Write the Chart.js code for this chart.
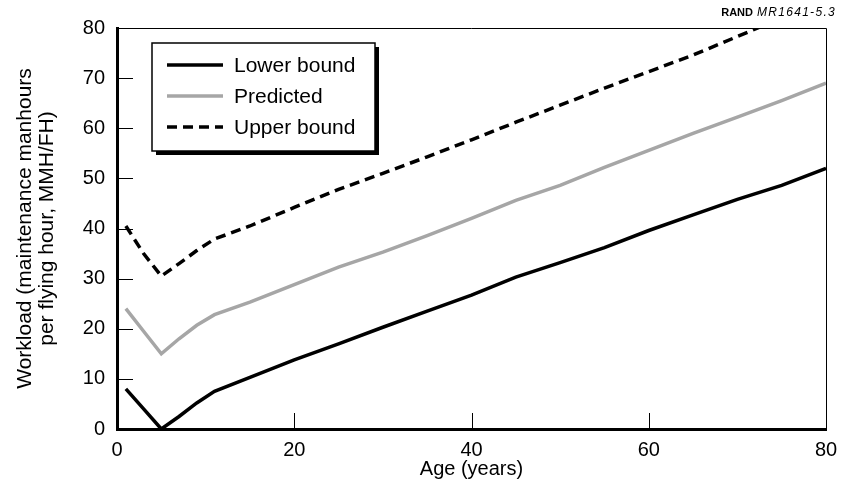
<!DOCTYPE html>
<html>
<head>
<meta charset="utf-8">
<title>Workload vs aircraft age</title>
<script src="https://cdn.jsdelivr.net/npm/chart.js@4.4.1/dist/chart.umd.min.js"></script>
<style>
  html, body { margin: 0; padding: 0; background: #fff; }
  #wrap { width: 843px; height: 492px; }
</style>
</head>
<body>
<div id="wrap"><canvas id="chart" width="843" height="492"></canvas></div>
<script>
const ages = [1, 3, 5, 7, 9, 11, 15, 20, 25, 30, 35, 40, 45, 50, 55, 60, 65, 70, 75, 80];

// Workload, MMH/FH
const lowerBound = [8, 4, 0, 2.5, 5.2, 7.5, 10.3, 13.8, 17, 20.3, 23.5, 26.7, 30.3, 33.2, 36.2, 39.6, 42.7, 45.8, 48.6, 52];
const predicted  = [24, 19.5, 15, 18, 20.7, 22.8, 25.3, 28.8, 32.3, 35.3, 38.6, 42, 45.6, 48.6, 52.2, 55.6, 59, 62.2, 65.5, 69];
// upper bound leaves the frame at the top right, the chart clips it
const upperBound = [40.5, 35, 30.5, 33, 35.6, 37.9, 40.5, 44.2, 47.8, 51, 54.3, 57.7, 61.2, 64.6, 68, 71.3, 74.6, 78.3, 82, 85.7];

const seriesNames = ['Lower bound', 'Predicted', 'Upper bound'];
const xTicks = [0, 20, 40, 60, 80];
const yTicks = [0, 10, 20, 30, 40, 50, 60, 70, 80];

const FONT = '"Liberation Sans", Arial, Helvetica, sans-serif';

function toPoints(values) {
  return ages.map(function (a, i) { return { x: a, y: values[i] }; });
}

// Frame top/right edges and the inward tick marks
const framePlugin = {
  id: 'frame',
  beforeDatasetsDraw: function (chart) {
    const ctx = chart.ctx;
    const area = chart.chartArea;
    const xs = chart.scales.x;
    const ys = chart.scales.y;
    ctx.save();
    ctx.strokeStyle = '#000';
    ctx.lineWidth = 1;
    ctx.beginPath();
    ctx.moveTo(area.left, area.top + 0.5);
    ctx.lineTo(area.right + 0.5, area.top + 0.5);
    ctx.lineTo(area.right + 0.5, area.bottom);
    ctx.stroke();

    ctx.beginPath();
    yTicks.slice(1, -1).forEach(function (v) {
      const y = Math.round(ys.getPixelForValue(v)) + 0.5;
      ctx.moveTo(area.left, y);
      ctx.lineTo(area.left + 16, y);
    });
    xTicks.slice(1, -1).forEach(function (v) {
      const x = Math.round(xs.getPixelForValue(v)) + 0.5;
      ctx.moveTo(x, area.bottom);
      ctx.lineTo(x, area.bottom - 16);
    });
    ctx.stroke();
    ctx.restore();
  }
};

// Boxed legend with a drop shadow, plus the report tag
const legendPlugin = {
  id: 'boxLegend',
  afterDraw: function (chart) {
    const ctx = chart.ctx;
    const bx = 152, by = 43, bw = 223, bh = 108;
    ctx.save();
    ctx.fillStyle = '#000';
    ctx.fillRect(bx + 4, by + 4, bw, bh);
    ctx.fillStyle = '#fff';
    ctx.fillRect(bx, by, bw, bh);
    ctx.strokeStyle = '#000';
    ctx.lineWidth = 1.5;
    ctx.strokeRect(bx, by, bw, bh);

    ctx.font = '21px ' + FONT;
    ctx.textBaseline = 'middle';
    ctx.textAlign = 'left';
    chart.data.datasets.forEach(function (ds, i) {
      const y = by + 22 + i * 31;
      ctx.beginPath();
      ctx.strokeStyle = ds.borderColor;
      ctx.lineWidth = ds.borderWidth;
      ctx.setLineDash(ds.borderDash || []);
      ctx.moveTo(bx + 15, y);
      ctx.lineTo(bx + 71, y);
      ctx.stroke();
      ctx.setLineDash([]);
      ctx.fillStyle = '#000';
      ctx.fillText(ds.label, bx + 82, y + 1);
    });

    // "RAND MR1641-5.3" in the top right corner
    ctx.textBaseline = 'middle';
    ctx.textAlign = 'right';
    ctx.font = 'italic 12px ' + FONT;
    ctx.letterSpacing = '1.3px';
    const tag = 'MR1641-5.3';
    ctx.fillText(tag, 836, 13);
    const tagW = ctx.measureText(tag).width;
    ctx.letterSpacing = '0px';
    ctx.font = 'bold 11px ' + FONT;
    ctx.fillText('RAND', 836 - tagW - 4, 13);
    ctx.restore();
  }
};

const ctx = document.getElementById('chart');

new Chart(ctx, {
  type: 'line',
  data: {
    datasets: [
      {
        label: seriesNames[0],
        data: toPoints(lowerBound),
        borderColor: '#000',
        borderWidth: 3.5
      },
      {
        label: seriesNames[1],
        data: toPoints(predicted),
        borderColor: '#a6a6a6',
        borderWidth: 3.5
      },
      {
        label: seriesNames[2],
        data: toPoints(upperBound),
        borderColor: '#000',
        borderWidth: 3.5,
        borderDash: [10, 6]
      }
    ]
  },
  options: {
    responsive: false,
    animation: false,
    devicePixelRatio: 1,
    layout: { padding: { top: 28, right: 17, left: 0, bottom: 0 } },
    elements: {
      point: { radius: 0 },
      line: { tension: 0, borderCapStyle: 'butt', borderJoinStyle: 'miter' }
    },
    plugins: {
      legend: { display: false },
      tooltip: { enabled: false }
    },
    scales: {
      x: {
        type: 'linear',
        min: 0,
        max: 80,
        afterBuildTicks: function (scale) {
          scale.ticks = xTicks.map(function (v) { return { value: v }; });
        },
        afterFit: function (scale) {
          scale.height = 63;
          // let the layout padding alone decide the right edge
          scale.paddingLeft = 0;
          scale.paddingRight = 0;
        },
        grid: { display: false, drawTicks: false },
        border: { display: true, color: '#000', width: 3 },
        ticks: {
          color: '#000',
          padding: 9,
          maxRotation: 0,
          font: { family: FONT, size: 20 }
        },
        title: {
          display: true,
          text: 'Age (years)',
          color: '#000',
          font: { family: FONT, size: 20, lineHeight: 1.1 },
          padding: { top: 0, bottom: 12 }
        }
      },
      y: {
        type: 'linear',
        min: 0,
        max: 80,
        afterBuildTicks: function (scale) {
          scale.ticks = yTicks.map(function (v) { return { value: v }; });
        },
        afterFit: function (scale) { scale.width = 117; },
        grid: { display: false, drawTicks: false },
        border: { display: true, color: '#000', width: 3 },
        ticks: {
          color: '#000',
          padding: 12,
          font: { family: FONT, size: 20 }
        },
        title: {
          display: true,
          text: ['Workload (maintenance manhours', 'per flying hour, MMH/FH)'],
          color: '#000',
          font: { family: FONT, size: 21, lineHeight: 1.05 },
          padding: { top: 14, bottom: 0 }
        }
      }
    }
  },
  plugins: [framePlugin, legendPlugin]
});
</script>
</body>
</html>
